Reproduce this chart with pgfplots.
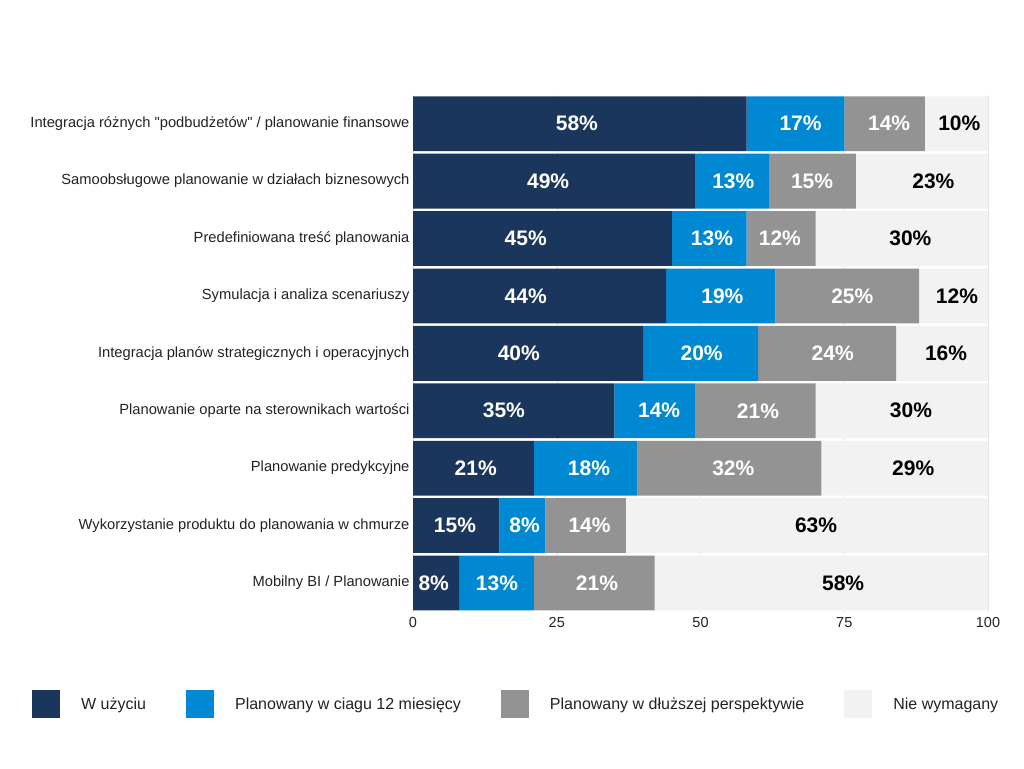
\documentclass[border=0pt]{standalone}
\usepackage{fontspec}
\setmainfont{Liberation Sans}[Ligatures=TeXOff]
\usepackage{pgfplots}
\pgfplotsset{compat=1.18}
\usepackage{pgfplotstable}
\definecolor{cdark}{HTML}{1B365D}
\definecolor{cblue}{HTML}{0089D2}
\definecolor{cgrey}{HTML}{939393}
\definecolor{clight}{HTML}{F2F2F2}
\definecolor{ctext}{HTML}{222222}

% bar segment lengths (last segment drawn to 100)
\pgfplotstableread{
y d b g l
0 8 13 21 58
1 15 8 14 63
2 21 18 32 29
3 35 14 21 30
4 40 20 24 16
5 44 19 25 12
6 45 13 12 30
7 49 13 15 23
8 58 17 14 11
}\data

% label positions and printed values
\pgfplotstableread{
y xd xb xg xl vd vb vg vl
0 3.6 14.6 32.0 74.8 8 13 21 58
1 7.3 19.4 30.7 70.1 15 8 14 63
2 10.9 30.6 55.7 87.0 21 18 32 29
3 15.8 42.8 60.0 86.6 35 14 21 30
4 18.4 50.2 73.0 92.7 40 20 24 16
5 19.6 53.8 76.4 94.6 44 19 25 12
6 19.6 52.0 63.8 86.5 45 13 12 30
7 23.5 55.7 69.4 90.5 49 13 15 23
8 28.5 67.4 82.8 95.0 58 17 14 10
}\labels

\pgfplotsset{
  commonaxis/.style={
    at={(413pt,156.3pt)}, anchor=south west,
    scale only axis, width=575pt, height=516.7pt,
    xmin=0, xmax=100, ymin=-0.5, ymax=8.5,
    /pgf/number format/assume math mode=true,
  },
}

\begin{document}
\begin{tikzpicture}
\useasboundingbox (0pt,0pt) rectangle (1024pt,768pt);
\begin{axis}[
  commonaxis,
  xbar stacked, bar width=0.955,
  ytick={0,...,8},
  yticklabels={Mobilny BI / Planowanie,
    Wykorzystanie produktu do planowania w chmurze,
    Planowanie predykcyjne,
    Planowanie oparte na sterownikach wartości,
    Integracja planów strategicznych i operacyjnych,
    Symulacja i analiza scenariuszy,
    Predefiniowana treść planowania,
    Samoobsługowe planowanie w działach biznesowych,
    Integracja różnych "podbudżetów" / planowanie finansowe},
  xtick={0,25,50,75,100},
  axis line style={draw=none},
  major tick length=0pt,
  xmajorgrids, grid style={black!10},
  tick label style={text=ctext},
  yticklabel style={font=\fontsize{14.7}{16}\selectfont},
  xticklabel style={font=\fontsize{14.5}{16}\selectfont, yshift=-2pt},
  legend columns=4,
  legend image code/.code={\path[#1, draw=none] (0pt,-14pt) rectangle (28pt,14pt);},
  legend style={at={(axis description cs:0,0)}, anchor=west,
    xshift=-381pt, yshift=-92.3pt, draw=none, fill=none, inner sep=0pt,
    font=\fontsize{16}{18}\selectfont, text=ctext,
    nodes={inner xsep=0pt},
    /tikz/every odd column/.append style={column sep=21pt},
    /tikz/every even column/.append style={column sep=40pt}},
]
\addplot[fill=cdark, draw=none] table[x=d, y=y] {\data};
\addplot[fill=cblue, draw=none] table[x=b, y=y] {\data};
\addplot[fill=cgrey, draw=none] table[x=g, y=y] {\data};
\addplot[fill=clight, draw=none] table[x=l, y=y] {\data};
\legend{W użyciu, Planowany w ciagu 12 miesięcy, Planowany w dłuższej perspektywie, Nie wymagany}
\end{axis}
\begin{axis}[
  commonaxis, hide axis,
  point meta=explicit,
  nodes near coords={\pgfmathprintnumber{\pgfplotspointmeta}\%},
  every node near coord/.append style={anchor=center,
    font=\fontsize{21}{22}\selectfont\bfseries},
]
\addplot[draw=none, mark=none, every node near coord/.append style={text=white}]
  table[x=xd, y=y, meta=vd] {\labels};
\addplot[draw=none, mark=none, every node near coord/.append style={text=white}]
  table[x=xb, y=y, meta=vb] {\labels};
\addplot[draw=none, mark=none, every node near coord/.append style={text=white}]
  table[x=xg, y=y, meta=vg] {\labels};
\addplot[draw=none, mark=none, every node near coord/.append style={text=black}]
  table[x=xl, y=y, meta=vl] {\labels};
\end{axis}
\end{tikzpicture}
\end{document}
